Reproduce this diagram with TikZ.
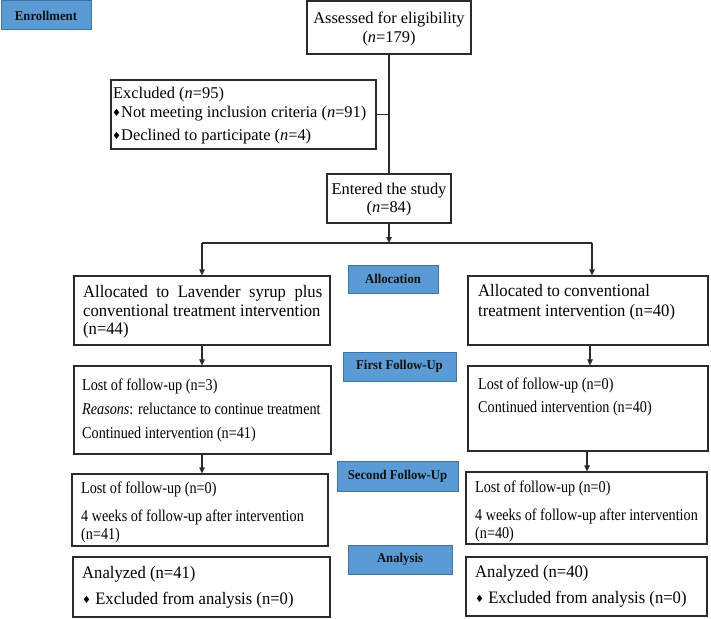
\documentclass[tikz,border=0pt]{standalone}
\usepackage{fontspec}
\setmainfont{Liberation Serif}
\newfontfamily\symf{DejaVu Sans}
\newfontfamily\narrowA[FakeStretch=0.86]{Liberation Serif}
\newfontfamily\narrowB[FakeStretch=0.95]{Liberation Serif}
\newfontfamily\labfont[FakeStretch=0.95]{Liberation Serif}
\usetikzlibrary{arrows.meta}
\definecolor{linec}{HTML}{2B2B2B}
\definecolor{labf}{HTML}{5B9BD5}
\definecolor{labb}{HTML}{41719C}
\definecolor{labt}{HTML}{111111}
\newcommand{\dmd}{{\symf\fontsize{10}{10}\selectfont\raisebox{0.5pt}{♦}}}
\tikzset{
  box/.style={draw=linec, line width=1.2pt, inner sep=0pt},
  lab/.style={draw=labb, fill=labf, line width=1pt, inner sep=0pt,
    text=labt, font=\labfont\fontsize{13.4}{15}\selectfont\bfseries},
  txt/.style={inner sep=0pt, anchor=base west},
  toptxt/.style={txt, font=\fontsize{16.4}{19}\selectfont},
  ntxt/.style={txt, font=\narrowA\fontsize{16.5}{19}\selectfont},
  wtxt/.style={txt, font=\narrowB\fontsize{17.5}{20}\selectfont},
  ln/.style={draw=linec, line width=1.1pt},
  arr/.style={draw=linec, line width=1.1pt, -{Triangle[length=6pt,width=5.5pt]}},
}
\begin{document}
\begin{tikzpicture}[x=1pt,y=-1pt]
\useasboundingbox (0,0) rectangle (711,618);

% labels
\node[lab, minimum width=90pt, minimum height=29pt] (enroll) at (46,15.5) {Enrollment};
\node[lab, minimum width=90pt, minimum height=28pt] (allocl) at (393,279) {Allocation};
\node[lab, minimum width=113pt, minimum height=29pt] (firstl) at (399.5,366.5) {First Follow-Up};
\node[lab, minimum width=121pt, minimum height=30pt] (secondl) at (397.5,476) {Second Follow-Up};
\node[lab, minimum width=104pt, minimum height=29pt] (analysisl) at (400,559.5) {Analysis};

% boxes
\node[box, minimum width=164pt, minimum height=53pt] (assess) at (389,27.5) {};
\node[box, minimum width=265pt, minimum height=69pt] (excl) at (243.5,114.5) {};
\node[box, minimum width=124pt, minimum height=49pt] (enter) at (389,198.5) {};
\node[box, minimum width=256pt, minimum height=69pt] (L1) at (202,310.5) {};
\node[box, minimum width=240pt, minimum height=69pt] (R1) at (588,310.5) {};
\node[box, minimum width=257pt, minimum height=88pt] (L2) at (202.5,410) {};
\node[box, minimum width=240pt, minimum height=85pt] (R2) at (588,408.5) {};
\node[box, minimum width=256pt, minimum height=72pt] (L3) at (200,510) {};
\node[box, minimum width=241pt, minimum height=72pt] (R3) at (586.5,508) {};
\node[box, minimum width=257pt, minimum height=60pt] (L4) at (201.5,587) {};
\node[box, minimum width=241pt, minimum height=59pt] (R4) at (586.5,586.5) {};

% texts top
\node[toptxt, anchor=base] (ta1) at (389,24) {Assessed for eligibility};
\node[toptxt, anchor=base] (ta2) at (389,42) {(\textit{n}=179)};
\node[toptxt] (te1) at (113,98) {Excluded (\textit{n}=95)};
\node[toptxt] (te2) at (112,117) {\dmd Not meeting inclusion criteria (\textit{n}=91)};
\node[toptxt] (te3) at (112,140) {\dmd Declined to participate (\textit{n}=4)};
\node[toptxt, anchor=base] (tn1) at (389,194) {Entered the study};
\node[toptxt, anchor=base] (tn2) at (389,212) {(\textit{n}=84)};

% texts left column
\node[wtxt] (l1a) at (83,297) {\makebox[239pt][s]{Allocated to Lavender syrup plus}};
\node[wtxt] (l1b) at (83,316) {conventional treatment intervention};
\node[wtxt] (l1c) at (83,334) {(n=44)};
\node[ntxt] (l2a) at (82,390) {Lost of follow-up (n=3)};
\node[ntxt] (l2b) at (82,414) {\textit{Reasons}: reluctance to continue treatment};
\node[ntxt] (l2c) at (82,438) {Continued intervention (n=41)};
\node[ntxt] (l3a) at (81,493) {Lost of follow-up (n=0)};
\node[ntxt] (l3b) at (81,521) {4 weeks of follow-up after intervention};
\node[ntxt] (l3c) at (81,539) {(n=41)};
\node[wtxt] (l4a) at (82,578) {Analyzed (n=41)};
\node[wtxt] (l4b) at (82,604) {\dmd\ Excluded from analysis (n=0)};

% texts right column
\node[wtxt] (r1a) at (478,296) {Allocated to conventional};
\node[wtxt] (r1b) at (478,316) {treatment intervention (n=40)};
\node[ntxt] (r2a) at (478,389) {Lost of follow-up (n=0)};
\node[ntxt] (r2b) at (478,412) {Continued intervention (n=40)};
\node[ntxt] (r3a) at (475,492) {Lost of follow-up (n=0)};
\node[ntxt] (r3b) at (475,520) {4 weeks of follow-up after intervention};
\node[ntxt] (r3c) at (475,538) {(n=40)};
\node[wtxt] (r4a) at (475,577) {Analyzed (n=40)};
\node[wtxt] (r4b) at (475,603) {\dmd\ Excluded from analysis (n=0)};

% connectors
\draw[ln] (assess.south) -- (enter.north);
\coordinate (br) at (enter.north |- excl.east);
\draw[ln] (br) -- (excl.east);
\coordinate (split) at (389,243);
\draw[arr] (enter.south) -- (split);
\coordinate (sl) at (202,243);
\coordinate (sr) at (592,243);
\draw[ln] (sl) -- (sr);
\draw[arr] (sl) -- (sl |- L1.north);
\draw[arr] (sr) -- (sr |- R1.north);
\draw[arr] (L1.south) -- (L1.south |- L2.north);
\coordinate (l23) at (202,454);
\draw[arr] (l23) -- (l23 |- L3.north);
\coordinate (r12) at (590,345);
\draw[arr] (r12) -- (r12 |- R2.north);
\coordinate (r23) at (587,451);
\draw[arr] (r23) -- (r23 |- R3.north);
\end{tikzpicture}
\end{document}
